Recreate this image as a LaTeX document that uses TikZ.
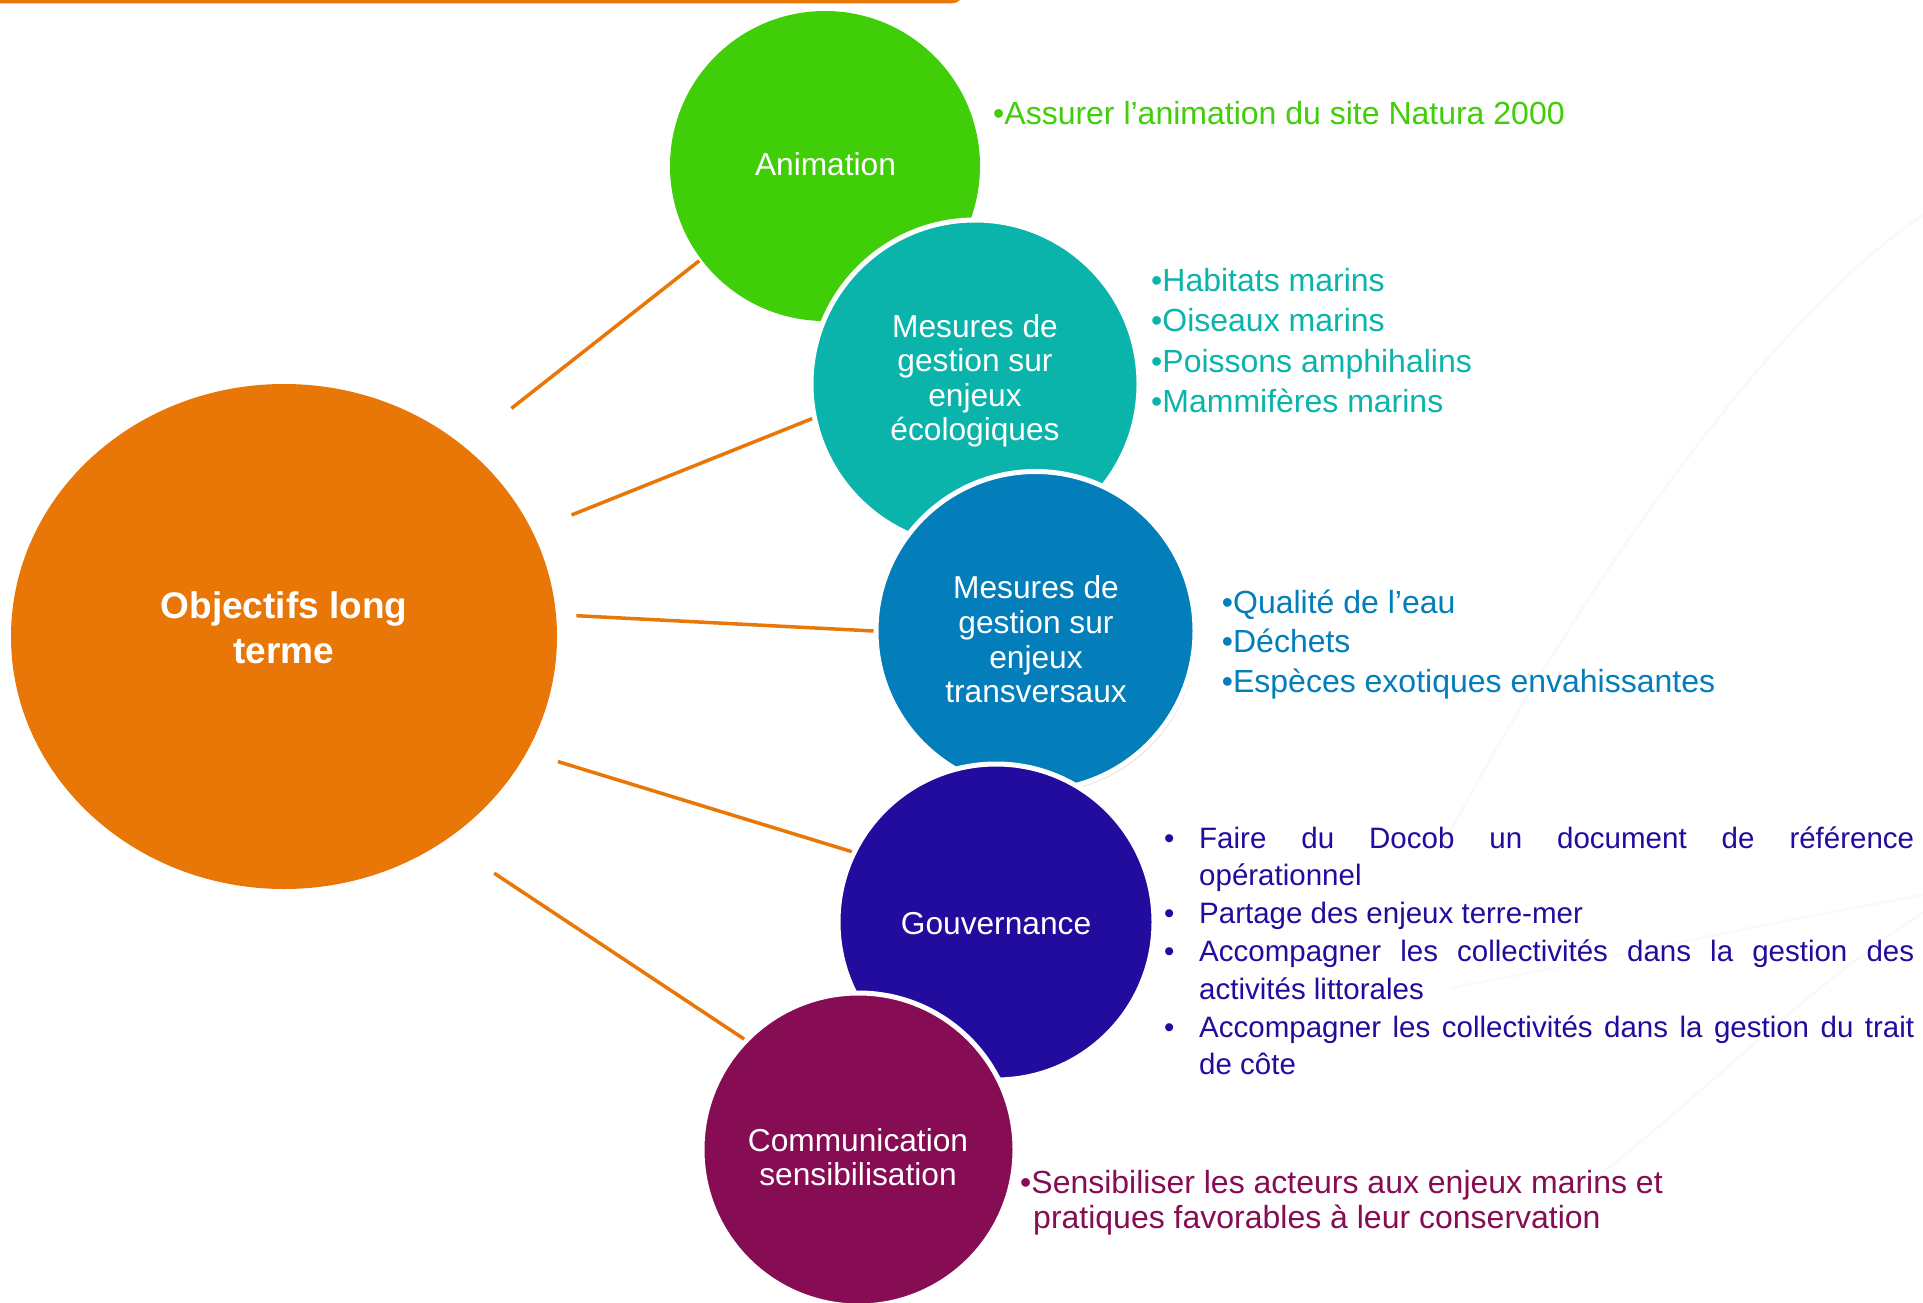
\documentclass[tikz,border=0pt]{standalone}
\usepackage{fontspec}
\setmainfont{Liberation Sans}
\usetikzlibrary{shapes.geometric,shadows}
\definecolor{cOrange}{HTML}{E87707}
\definecolor{cGreen}{HTML}{3FCE08}
\definecolor{cTeal}{HTML}{0AB4AA}
\definecolor{cBlue}{HTML}{047DBB}
\definecolor{cIndigo}{HTML}{220C9E}
\definecolor{cMaroon}{HTML}{860D54}
\definecolor{cSwoosh}{HTML}{F9F9F9}
\begin{document}
\begin{tikzpicture}[x=1pt,y=-1pt,
  disc/.style={circle, inner sep=0pt, draw=white, line width=5pt},
  ctext/.style={anchor=base, inner sep=0pt, text=white, font=\fontsize{31.7}{35}\selectfont},
  btext/.style={anchor=base, inner sep=0pt, text=white, font=\fontsize{37}{45}\selectfont\bfseries},
  rtext/.style={anchor=base west, inner sep=0pt, font=\fontsize{32}{38}\selectfont},
  gtext/.style={anchor=base west, inner sep=0pt, text=cIndigo, font=\fontsize{29.5}{37}\selectfont},
  link/.style={draw=cOrange, line width=3.5pt},
  swoosh/.style={draw=cSwoosh, line width=2.5pt}]
\useasboundingbox[fill=white] (0,0) rectangle (1923,1303);

% faint background swooshes
\draw[swoosh] (1935,208) .. controls (1780,300) and (1580,590) .. (1450,832);
\draw[swoosh] (1935,893) .. controls (1780,920) and (1600,960) .. (1450,988);
\draw[swoosh] (1935,905) .. controls (1800,990) and (1700,1100) .. (1580,1190);

% header bar
\draw[cOrange, line width=4pt, rounded corners=12pt] (-20,-40) rectangle (963,1.5);

% central ellipse
\node[ellipse, fill=cOrange, inner sep=0pt, minimum width=546pt, minimum height=505pt] (obj) at (284,636.5) {};

% satellite circles
\node[disc, draw=none, fill=cGreen, minimum size=310pt] (anim) at (825,166) {};
\node[disc, fill=cTeal, minimum size=328pt] (eco) at (975,384) {};
\node[disc, fill=cBlue, minimum size=319pt,
      drop shadow={shadow xshift=2pt, shadow yshift=-3pt, opacity=0.2, fill=gray}] (trans) at (1035.5,631) {};
\node[disc, fill=cIndigo, minimum size=316pt] (gouv) at (996,922) {};
\node[disc, fill=cMaroon, minimum size=313pt] (comm) at (858.5,1149.5) {};

% connector starts
\coordinate (s1) at (511.4,408.4);
\coordinate (s2) at (571.5,515);
\coordinate (s3) at (576.4,615.7);
\coordinate (s4) at (558,761.6);
\coordinate (s5) at (494.2,873.2);
\draw[link] (s1) -- (anim.217.7);
\draw[link] (s2) -- (eco.192.1);
\draw[link] (s3) -- (trans.180.5);
\draw[link] (s4) -- (gouv.154.5);
\draw[link] (s5) -- (comm.136.8);

% circle texts
\node[btext] (objt1) at (284,618.6) {Objectifs long};
\node[btext] (objt2) at (284,663.7) {terme};
\node[ctext] (animt) at (825.5,175.7) {Animation};
\node[ctext] (ecot1) at (975,337) {Mesures de};
\node[ctext] (ecot2) at (975,371.5) {gestion sur};
\node[ctext] (ecot3) at (975,406) {enjeux};
\node[ctext] (ecot4) at (975,440.5) {écologiques};
\node[ctext] (trt1) at (1036,598) {Mesures de};
\node[ctext] (trt2) at (1036,633.5) {gestion sur};
\node[ctext] (trt3) at (1036,668) {enjeux};
\node[ctext] (trt4) at (1036,702.5) {transversaux};
\node[ctext] (gouvt) at (996,934.5) {Gouvernance};
\node[ctext] (commt1) at (858,1151) {Communication};
\node[ctext] (commt2) at (858,1185) {sensibilisation};

% right-hand texts
\node[rtext, text=cGreen] (ra1) at (993,125) {•Assurer l’animation du site Natura 2000};

\node[rtext, text=cTeal] (re1) at (1151,291.7) {•Habitats marins};
\node[rtext, text=cTeal] (re2) at (1151,331.9) {•Oiseaux marins};
\node[rtext, text=cTeal] (re3) at (1151,372.1) {•Poissons amphihalins};
\node[rtext, text=cTeal] (re4) at (1151,412.3) {•Mammifères marins};

\node[rtext, text=cBlue] (rt1) at (1221.7,613.3) {•Qualité de l’eau};
\node[rtext, text=cBlue] (rt2) at (1221.7,652.7) {•Déchets};
\node[rtext, text=cBlue] (rt3) at (1221.7,692) {•Espèces exotiques envahissantes};

\node[gtext] (gb1) at (1164,848) {•};
\node[gtext] (gb2) at (1164,923.6) {•};
\node[gtext] (gb3) at (1164,961.4) {•};
\node[gtext] (gb4) at (1164,1037) {•};
\node[gtext] (gl1) at (1199,848) {\makebox[715pt][s]{Faire du Docob un document de référence}};
\node[gtext] (gl2) at (1199,885.8) {opérationnel};
\node[gtext] (gl3) at (1199,923.6) {Partage des enjeux terre-mer};
\node[gtext] (gl4) at (1199,961.4) {\makebox[715pt][s]{Accompagner les collectivités dans la gestion des}};
\node[gtext] (gl5) at (1199,999.2) {activités littorales};
\node[gtext] (gl6) at (1199,1037) {\makebox[715pt][s]{Accompagner les collectivités dans la gestion du trait}};
\node[gtext] (gl7) at (1199,1074.8) {de côte};

\node[rtext, text=cMaroon] (rc1) at (1020,1193) {•Sensibiliser les acteurs aux enjeux marins et};
\node[rtext, text=cMaroon] (rc2) at (1033,1228) {pratiques favorables à leur conservation};
\end{tikzpicture}
\end{document}
